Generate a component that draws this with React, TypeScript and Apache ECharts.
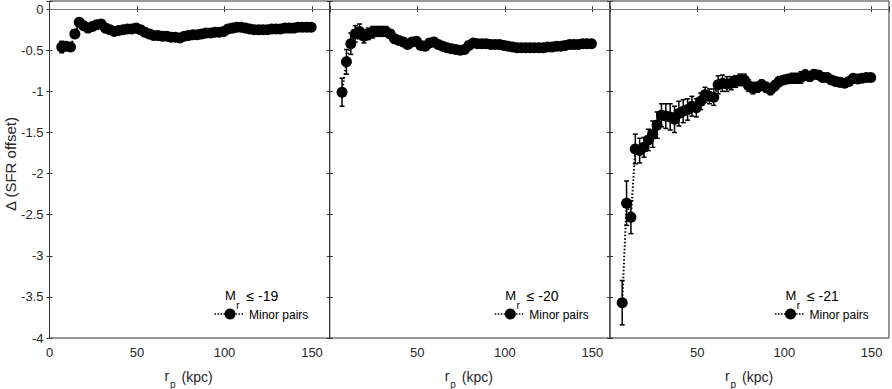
import React, { useEffect, useRef } from "react";
import * as echarts from "echarts";

// Projected separation bins (kpc)
const rp: number[] = [
  7, 9.5, 12, 14.5, 17, 19.5, 22, 24.5, 27, 29.5, 32, 34.5, 37, 39.5, 42, 44.5, 47, 49.5, 52, 54.5,
  57, 59.5, 62, 64.5, 67, 69.5, 72, 74.5, 77, 79.5, 82, 84.5, 87, 89.5, 92, 94.5, 97, 99.5, 102, 104.5,
  107, 109.5, 112, 114.5, 117, 119.5, 122, 124.5, 127, 129.5, 132, 134.5, 137, 139.5, 142, 144.5, 147, 149.5,
];

// Mr <= -19
const sfr19: number[] = [
  -0.46, -0.45, -0.46, -0.30, -0.16, -0.20, -0.23, -0.21, -0.19, -0.18, -0.23, -0.25, -0.27, -0.26, -0.25, -0.24, -0.24, -0.23, -0.25, -0.28,
  -0.30, -0.32, -0.32, -0.33, -0.33, -0.34, -0.34, -0.35, -0.33, -0.32, -0.31, -0.31, -0.30, -0.29, -0.29, -0.28, -0.28, -0.27, -0.24, -0.23,
  -0.22, -0.22, -0.23, -0.24, -0.25, -0.25, -0.25, -0.25, -0.24, -0.24, -0.24, -0.23, -0.23, -0.23, -0.22, -0.22, -0.22, -0.22,
];
const err19: number[] = [
  0.07, 0.04, 0.05, 0.04, 0.05, 0.04, 0.04, 0.04, 0.03, 0.03, 0.03, 0.03, 0.03, 0.03, 0.03, 0.03, 0.03, 0.03, 0.03, 0.03,
  0.03, 0.03, 0.03, 0.03, 0.03, 0.03, 0.03, 0.03, 0.03, 0.03, 0.02, 0.02, 0.02, 0.02, 0.02, 0.02, 0.02, 0.02, 0.02, 0.02,
  0.02, 0.02, 0.02, 0.02, 0.02, 0.02, 0.02, 0.02, 0.02, 0.02, 0.02, 0.02, 0.02, 0.02, 0.02, 0.02, 0.02, 0.02,
];

// Mr <= -20
const sfr20: number[] = [
  -1.01, -0.64, -0.42, -0.30, -0.27, -0.33, -0.30, -0.28, -0.27, -0.27, -0.27, -0.30, -0.36, -0.38, -0.40, -0.43, -0.40, -0.39, -0.44, -0.45,
  -0.41, -0.40, -0.43, -0.45, -0.47, -0.48, -0.49, -0.50, -0.49, -0.44, -0.41, -0.42, -0.42, -0.42, -0.43, -0.43, -0.43, -0.44, -0.45, -0.46,
  -0.47, -0.47, -0.47, -0.47, -0.47, -0.47, -0.47, -0.46, -0.46, -0.45, -0.45, -0.44, -0.43, -0.43, -0.43, -0.42, -0.42, -0.42,
];
const err20: number[] = [
  0.17, 0.15, 0.13, 0.10, 0.09, 0.08, 0.07, 0.07, 0.06, 0.06, 0.06, 0.05, 0.05, 0.04, 0.04, 0.04, 0.04, 0.04, 0.04, 0.04,
  0.03, 0.03, 0.03, 0.03, 0.03, 0.03, 0.03, 0.03, 0.03, 0.03, 0.03, 0.03, 0.03, 0.03, 0.03, 0.03, 0.03, 0.03, 0.03, 0.03,
  0.03, 0.03, 0.03, 0.03, 0.03, 0.03, 0.03, 0.03, 0.03, 0.03, 0.03, 0.03, 0.03, 0.03, 0.03, 0.03, 0.03, 0.03,
];

// Mr <= -21
const sfr21: number[] = [
  -3.57, -2.36, -2.53, -1.70, -1.72, -1.68, -1.59, -1.52, -1.41, -1.29, -1.30, -1.31, -1.34, -1.27, -1.24, -1.22, -1.18, -1.20, -1.12, -1.04,
  -1.06, -1.07, -0.92, -0.90, -0.91, -0.90, -0.88, -0.86, -0.86, -0.93, -0.96, -0.95, -0.92, -0.95, -0.98, -0.93, -0.88, -0.86, -0.85, -0.84,
  -0.84, -0.83, -0.80, -0.82, -0.79, -0.80, -0.83, -0.83, -0.86, -0.88, -0.89, -0.90, -0.88, -0.84, -0.85, -0.84, -0.83, -0.83,
];
const err21: number[] = [
  0.27, 0.27, 0.20, 0.18, 0.15, 0.12, 0.13, 0.16, 0.16, 0.14, 0.15, 0.16, 0.16, 0.15, 0.14, 0.13, 0.12, 0.11, 0.10, 0.09,
  0.09, 0.10, 0.11, 0.10, 0.09, 0.08, 0.07, 0.07, 0.07, 0.07, 0.07, 0.06, 0.06, 0.06, 0.06, 0.06, 0.06, 0.05, 0.05, 0.06,
  0.06, 0.07, 0.06, 0.05, 0.05, 0.05, 0.05, 0.05, 0.05, 0.05, 0.05, 0.04, 0.04, 0.04, 0.04, 0.04, 0.04, 0.04,
];

const panelLabels: string[] = ["-19", "-20", "-21"];
const legendName = "Minor pairs";
const xTicks = { min: 0, max: 160, interval: 50 };
const yTicks = { min: -4, max: 0.1, interval: 0.5 };

const FONT = '"Liberation Sans", Arial, Helvetica, sans-serif';
const AX = "#333";

const panels = [
  { y: sfr19, e: err19, left: 49.5 },
  { y: sfr20, e: err20, left: 329.8 },
  { y: sfr21, e: err21, left: 610 },
];
const PW = 280;
const TOP = 1;
const PH = 337;

export default function App() {
  const ref = useRef<HTMLDivElement>(null);
  useEffect(() => {
    if (!ref.current) return;
    const chart = echarts.init(ref.current, null, { renderer: "svg" });

    const grid: any[] = [];
    const xAxis: any[] = [];
    const yAxis: any[] = [];
    const series: any[] = [];
    const graphic: any[] = [];

    panels.forEach((p, i) => {
      grid.push({
        left: p.left,
        top: TOP,
        width: PW,
        height: PH,
        show: true,
        borderColor: AX,
        borderWidth: 1,
        backgroundColor: "transparent",
        containLabel: false,
      });
      const xBase = {
        type: "value",
        gridIndex: i,
        min: xTicks.min,
        max: xTicks.max,
        interval: xTicks.interval,
        splitLine: { show: false },
        axisLine: { show: false },
        axisTick: { show: true, inside: true, length: 3, lineStyle: { color: AX } },
      };
      xAxis.push({
        ...xBase,
        position: "bottom",
        axisLabel: {
          show: true,
          margin: 8,
          fontSize: 13,
          color: "#262626",
          fontFamily: FONT,
          formatter: (v: number) => {
            if (v === xTicks.max) return "";
            if (i > 0 && v === 0) return "";
            return String(v);
          },
        },
      });
      xAxis.push({ ...xBase, position: "top", axisLabel: { show: false } });
      const yBase = {
        type: "value",
        gridIndex: i,
        min: yTicks.min,
        max: yTicks.max,
        interval: yTicks.interval,
        splitLine: { show: false },
        axisLine: { show: false },
        axisTick: { show: true, inside: true, length: 3, lineStyle: { color: AX } },
      };
      yAxis.push({
        ...yBase,
        position: "left",
        axisLabel: {
          show: i === 0,
          margin: 6,
          fontSize: 13,
          color: "#262626",
          fontFamily: FONT,
          formatter: (v: number) =>
            Math.abs(v * 2 - Math.round(v * 2)) < 1e-6 ? String(v) : "",
        },
      });
      yAxis.push({ ...yBase, position: "right", axisLabel: { show: false } });

      const pts = rp.map((x, k) => [x, p.y[k], p.e[k]]);

      series.push({
        type: "line",
        xAxisIndex: i * 2,
        yAxisIndex: i * 2,
        data: pts.map((d) => [d[0], d[1]]),
        symbol: "circle",
        symbolSize: 11,
        showSymbol: true,
        itemStyle: { color: "#000" },
        lineStyle: { color: "#000", width: 2, type: [1.5, 2] },
        z: 3,
        markLine: {
          silent: true,
          symbol: "none",
          label: { show: false },
          lineStyle: { color: "#777", width: 1, type: "solid" },
          data: [{ yAxis: 0 }],
        },
      });
      series.push({
        type: "custom",
        xAxisIndex: i * 2,
        yAxisIndex: i * 2,
        data: pts,
        encode: { x: 0, y: 1 },
        z: 4,
        renderItem: (_params: any, api: any) => {
          const x = api.value(0);
          const y = api.value(1);
          const e = api.value(2);
          const t = api.coord([x, y + e]);
          const b = api.coord([x, y - e]);
          const hw = 2.5;
          const st = { stroke: "#000", lineWidth: 1.5 };
          return {
            type: "group",
            children: [
              { type: "line", shape: { x1: t[0], y1: t[1], x2: b[0], y2: b[1] }, style: st },
              { type: "line", shape: { x1: t[0] - hw, y1: t[1], x2: t[0] + hw, y2: t[1] }, style: st },
              { type: "line", shape: { x1: b[0] - hw, y1: b[1], x2: b[0] + hw, y2: b[1] }, style: st },
            ],
          };
        },
      });

      // panel annotation / legend
      const R = p.left + PW;
      graphic.push(
        { type: "text", x: R - 104.5, y: 295.5, style: { text: "M", fontSize: 13, fontFamily: FONT, fill: "#000", verticalAlign: "middle", textAlign: "left" } },
        { type: "text", x: R - 93.3, y: 305, style: { text: "r", fontSize: 10, fontFamily: FONT, fill: "#000", verticalAlign: "middle", textAlign: "left" } },
        { type: "text", x: R - 83, y: 295.5, style: { text: "≤ " + panelLabels[i], fontSize: 14, fontFamily: FONT, fill: "#000", verticalAlign: "middle", textAlign: "left" } },
        { type: "line", shape: { x1: R - 115, y1: 314, x2: R - 85, y2: 314 }, style: { stroke: "#000", lineWidth: 1.5, lineDash: [1.5, 1.5] } },
        { type: "circle", shape: { cx: R - 99.5, cy: 314, r: 5.5 }, style: { fill: "#000" } },
        { type: "text", x: R - 80.5, y: 314.5, style: { text: legendName, fontSize: 12, fontFamily: FONT, fill: "#000", verticalAlign: "middle", textAlign: "left" } },
      );
      // x axis title
      const cx = p.left + PW / 2;
      graphic.push(
        { type: "text", x: cx - 25, y: 376, style: { text: "r", fontSize: 14, fontFamily: FONT, fill: "#262626", verticalAlign: "middle", textAlign: "left" } },
        { type: "text", x: cx - 19.5, y: 384, style: { text: "p", fontSize: 10, fontFamily: FONT, fill: "#262626", verticalAlign: "middle", textAlign: "left" } },
        { type: "text", x: cx - 8, y: 377, style: { text: "(kpc)", fontSize: 14, fontFamily: FONT, fill: "#262626", verticalAlign: "middle", textAlign: "left" } },
      );
    });

    graphic.push({
      type: "text",
      x: 10,
      y: 164,
      rotation: Math.PI / 2,
      style: { text: "Δ (SFR offset)", fontSize: 15, fontFamily: FONT, fill: "#262626", verticalAlign: "middle", textAlign: "center" },
    });

    chart.setOption({
      animation: false,
      backgroundColor: "#fff",
      grid,
      xAxis,
      yAxis,
      series,
      graphic,
    });
    return () => chart.dispose();
  }, []);

  return (
    <div
      ref={ref}
      style={{ position: "absolute", left: 0, top: 0, width: 892, height: 389 }}
    />
  );
}
